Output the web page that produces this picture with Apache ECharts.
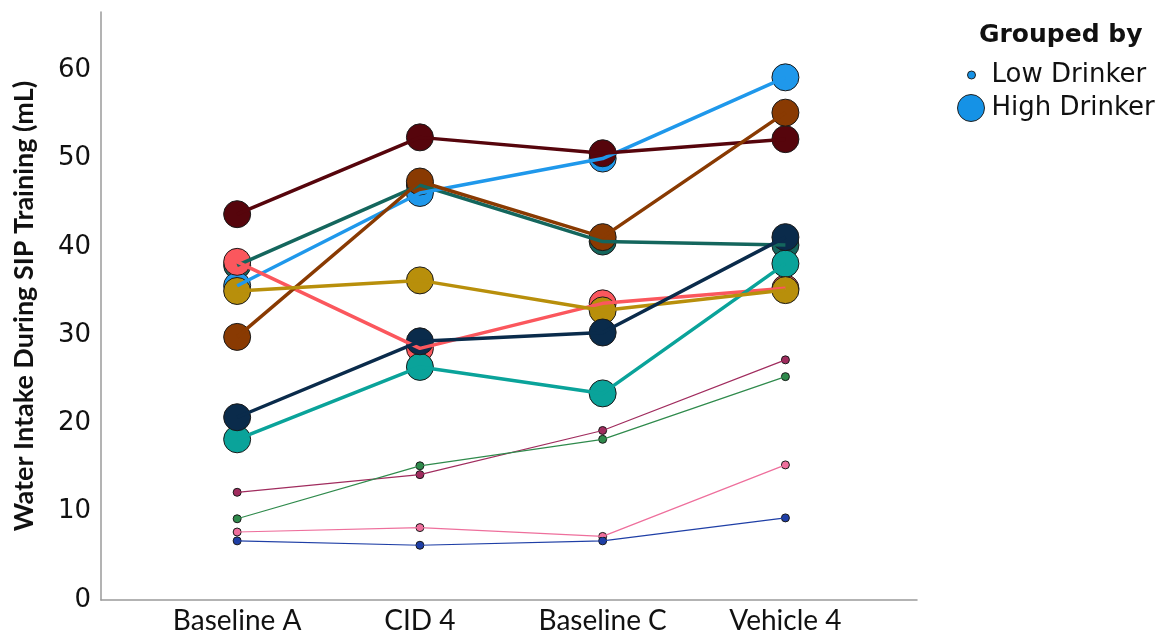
<!DOCTYPE html>
<html><head><meta charset="utf-8">
<script src="https://cdn.jsdelivr.net/npm/echarts@6/dist/echarts.min.js"></script>
<style>html,body{margin:0;padding:0;background:#fff}#c{width:1171px;height:640px}</style>
</head><body><div id="c"></div>
<script>
const categories = ['Baseline A', 'CID 4', 'Baseline C', 'Vehicle 4'];
const yTicks = [0, 10, 20, 30, 40, 50, 60];
// High drinkers (drawn bottom -> top)
const highDarkTeal = [37.9, 47.0, 40.6, 40.2];
const highBlue     = [35.6, 46.1, 50.0, 59.2];
const highSalmon   = [38.3, 28.5, 33.6, 35.3];
const highTeal     = [18.2, 26.4, 23.4, 38.1];
const highMaroon   = [43.7, 52.4, 50.6, 52.2];
const highBrown    = [29.8, 47.4, 41.1, 55.2];
const highGold     = [35.0, 36.2, 32.8, 35.1];
const highNavy     = [20.7, 29.3, 30.3, 41.1];
// Low drinkers
const lowMaroon = [12.2, 14.2, 19.2, 27.2];
const lowGreen  = [9.2, 15.2, 18.2, 25.3];
const lowPink   = [7.7, 8.2, 7.2, 15.3];
const lowBlue   = [6.7, 6.2, 6.7, 9.3];

const groups = [
  {name: 'Low 1', data: lowMaroon, color: '#a02c5e', high: false},
  {name: 'Low 2', data: lowGreen, color: '#2f8a4c', high: false},
  {name: 'Low 3', data: lowPink, color: '#ee6f9c', high: false},
  {name: 'Low 4', data: lowBlue, color: '#1f3fa6', high: false},
  {name: 'High 1', data: highDarkTeal, color: '#14665d', high: true},
  {name: 'High 2', data: highBlue, color: '#1f98eb', high: true},
  {name: 'High 3', data: highSalmon, color: '#fb575d', high: true},
  {name: 'High 4', data: highTeal, color: '#0aa39a', high: true},
  {name: 'High 5', data: highMaroon, color: '#56050c', high: true},
  {name: 'High 6', data: highBrown, color: '#893a02', high: true},
  {name: 'High 7', data: highGold, color: '#b88f0b', high: true},
  {name: 'High 8', data: highNavy, color: '#0a2b4b', high: true}
];

const series = [];
groups.forEach(g => {
  const pts = g.data.map((v, i) => [i, v]);
  series.push({
    type: 'scatter', name: g.name + ' pts', data: pts, z: 2,
    symbol: 'circle', symbolSize: g.high ? 27 : 8,
    itemStyle: {color: g.color, borderColor: '#1a1a1a', borderWidth: 1, opacity: 1},
    emphasis: {disabled: true}, silent: true
  });
});
groups.forEach(g => {
  const pts = g.data.map((v, i) => [i, v]);
  series.push({
    type: 'line', name: g.name, data: pts, z: 3, showSymbol: false, symbol: 'none',
    lineStyle: {color: g.color, width: g.high ? 3.5 : 1.2},
    emphasis: {disabled: true}, silent: true, animation: false
  });
});
const legendBlue = '#1592e6';
series.push({type: 'scatter', name: 'Low Drinker', data: [], itemStyle: {color: legendBlue, borderColor: '#222', borderWidth: 1, opacity: 1}});
series.push({type: 'scatter', name: 'High Drinker', data: [], itemStyle: {color: legendBlue, borderColor: '#222', borderWidth: 1, opacity: 1}});

const chart = echarts.init(document.getElementById('c'), null, {renderer: 'canvas'});
chart.setOption({
  animation: false,
  backgroundColor: '#fff',
  title: {text: 'Grouped by', left: 974, top: 18,
    textStyle: {fontFamily: 'DejaVu Sans', fontWeight: 'bold', fontSize: 25, color: '#111'}},
  legend: [
    {data: ['Low Drinker'], left: 962, top: 57, icon: 'circle', itemWidth: 8, itemHeight: 8, itemGap: 0,
      itemStyle: {color: legendBlue, borderColor: '#222', borderWidth: 1, opacity: 1},
      textStyle: {fontFamily: 'DejaVu Sans', fontSize: 26, color: '#111', padding: [0, 0, 0, 11]}, selectedMode: false},
    {data: ['High Drinker'], left: 952, top: 89, icon: 'circle', itemWidth: 27, itemHeight: 27, itemGap: 0,
      itemStyle: {color: legendBlue, borderColor: '#222', borderWidth: 1, opacity: 1},
      textStyle: {fontFamily: 'DejaVu Sans', fontSize: 26, color: '#111', padding: [0, 0, 0, 2]}, selectedMode: false}
  ],
  grid: {left: 101, right: 254, top: 12, bottom: 40, containLabel: false},
  xAxis: {
    type: 'value', min: -0.745, max: 3.72,
    axisLine: {show: true, onZero: false, lineStyle: {color: '#9a9a9a', width: 1.5}},
    axisTick: {show: false},
    splitLine: {show: false},
    axisLabel: {customValues: [0, 1, 2, 3], formatter: v => categories[Math.round(v)],
      margin: 7, fontFamily: 'Lato, sans-serif', fontSize: 28, color: '#111'}
  },
  yAxis: {
    type: 'value', min: 0, max: 66.6, interval: 10,
    name: 'Water Intake During SIP Training (mL)', nameLocation: 'middle', nameGap: 63,
    nameTextStyle: {fontFamily: 'Lato, sans-serif', fontWeight: 'bold', fontSize: 27, color: '#111'},
    axisLine: {show: true, onZero: false, lineStyle: {color: '#9a9a9a', width: 1.5}},
    axisTick: {show: false},
    splitLine: {show: false},
    axisLabel: {formatter: v => (yTicks.indexOf(v) >= 0 ? String(v) : ''), margin: 10,
      fontFamily: 'DejaVu Sans', fontSize: 26, color: '#111'}
  },
  series: series
});
</script></body></html>
